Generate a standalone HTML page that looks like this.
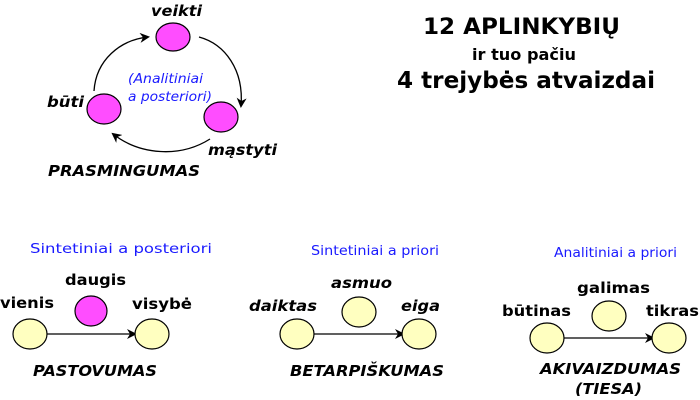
<!DOCTYPE html>
<html><head><meta charset="utf-8"><style>
html,body{margin:0;padding:0;background:#fff;width:700px;height:400px;overflow:hidden}
text{font-family:"DejaVu Sans","Liberation Sans",sans-serif}
.b{font-weight:bold;font-size:15px}
.bi{font-weight:bold;font-style:italic;font-size:15px}
.bl{fill:#1a1aff;font-size:13px}
</style></head><body>
<svg width="700" height="400" viewBox="0 0 700 400" xmlns="http://www.w3.org/2000/svg">
<defs><marker id="a" markerWidth="10" markerHeight="10" refX="8" refY="5" orient="auto" markerUnits="userSpaceOnUse"><path d="M0,0 L10,5 L0,10 L3,5 z" fill="#000"/></marker></defs>
<g stroke="#000" stroke-width="1.3" fill="none">
<path d="M94,91 C96,60 120,40 148,37" marker-end="url(#a)"/>
<path d="M199,37 C225,44 244,70 241,106" marker-end="url(#a)"/>
<path d="M210,139 C180,158 140,155 113,134" marker-end="url(#a)"/>
<path d="M47,334 L135,334" marker-end="url(#a)"/>
<path d="M314,334 L403,334" marker-end="url(#a)"/>
<path d="M564,338 L653,338" marker-end="url(#a)"/>
</g>
<g stroke="#000" stroke-width="1.2">
<ellipse cx="173" cy="37" rx="17" ry="14" fill="#ff4dff"/>
<ellipse cx="104" cy="109" rx="17" ry="15" fill="#ff4dff"/>
<ellipse cx="221" cy="117" rx="17" ry="15" fill="#ff4dff"/>
<ellipse cx="30" cy="334" rx="17" ry="15" fill="#ffffc0"/>
<ellipse cx="91" cy="311" rx="16" ry="15" fill="#ff4dff"/>
<ellipse cx="152" cy="334" rx="17" ry="15" fill="#ffffc0"/>
<ellipse cx="297" cy="334" rx="17" ry="15" fill="#ffffc0"/>
<ellipse cx="359" cy="312" rx="17" ry="15" fill="#ffffc0"/>
<ellipse cx="419" cy="334" rx="17" ry="15" fill="#ffffc0"/>
<ellipse cx="547" cy="338" rx="17" ry="15" fill="#ffffc0"/>
<ellipse cx="609" cy="316" rx="17" ry="15" fill="#ffffc0"/>
<ellipse cx="669" cy="338" rx="17" ry="15" fill="#ffffc0"/>
</g>
<text class="bi" x="151" y="16" textLength="51" lengthAdjust="spacingAndGlyphs">veikti</text>
<text class="bi" x="47" y="107" textLength="37" lengthAdjust="spacingAndGlyphs">būti</text>
<text class="bi" x="208" y="155" textLength="69" lengthAdjust="spacingAndGlyphs">mąstyti</text>
<text class="bi" x="48" y="176" textLength="152" lengthAdjust="spacingAndGlyphs">PRASMINGUMAS</text>
<text class="bl" x="128" y="83" font-style="italic" textLength="75" lengthAdjust="spacingAndGlyphs">(Analitiniai</text>
<text class="bl" x="128" y="101" font-style="italic" textLength="84" lengthAdjust="spacingAndGlyphs">a posteriori)</text>
<text x="423" y="34" font-weight="bold" font-size="22" textLength="197" lengthAdjust="spacingAndGlyphs">12 APLINKYBIŲ</text>
<text x="472" y="60" font-weight="bold" font-size="16" textLength="104" lengthAdjust="spacingAndGlyphs">ir tuo pačiu</text>
<text x="397" y="88" font-weight="bold" font-size="23" textLength="258" lengthAdjust="spacingAndGlyphs">4 trejybės atvaizdai</text>
<text class="bl" x="30" y="253" textLength="182" lengthAdjust="spacingAndGlyphs">Sintetiniai a posteriori</text>
<text class="bl" x="311" y="255" textLength="128" lengthAdjust="spacingAndGlyphs">Sintetiniai a priori</text>
<text class="bl" x="554" y="257" textLength="123" lengthAdjust="spacingAndGlyphs">Analitiniai a priori</text>
<text class="b" x="65" y="285" textLength="61" lengthAdjust="spacingAndGlyphs">daugis</text>
<text class="b" x="0" y="308" textLength="54" lengthAdjust="spacingAndGlyphs">vienis</text>
<text class="b" x="132" y="309" textLength="60" lengthAdjust="spacingAndGlyphs">visybė</text>
<text class="bi" x="33" y="376" textLength="124" lengthAdjust="spacingAndGlyphs">PASTOVUMAS</text>
<text class="bi" x="331" y="288" textLength="61" lengthAdjust="spacingAndGlyphs">asmuo</text>
<text class="bi" x="249" y="311" textLength="68" lengthAdjust="spacingAndGlyphs">daiktas</text>
<text class="bi" x="401" y="311" textLength="39" lengthAdjust="spacingAndGlyphs">eiga</text>
<text class="bi" x="290" y="376" textLength="154" lengthAdjust="spacingAndGlyphs">BETARPIŠKUMAS</text>
<text class="b" x="577" y="293" textLength="73" lengthAdjust="spacingAndGlyphs">galimas</text>
<text class="b" x="502" y="316" textLength="69" lengthAdjust="spacingAndGlyphs">būtinas</text>
<text class="b" x="646" y="316" textLength="53" lengthAdjust="spacingAndGlyphs">tikras</text>
<text class="bi" x="540" y="374" textLength="141" lengthAdjust="spacingAndGlyphs">AKIVAIZDUMAS</text>
<text class="bi" x="575" y="394" textLength="67" lengthAdjust="spacingAndGlyphs">(TIESA)</text>
</svg>
</body></html>
